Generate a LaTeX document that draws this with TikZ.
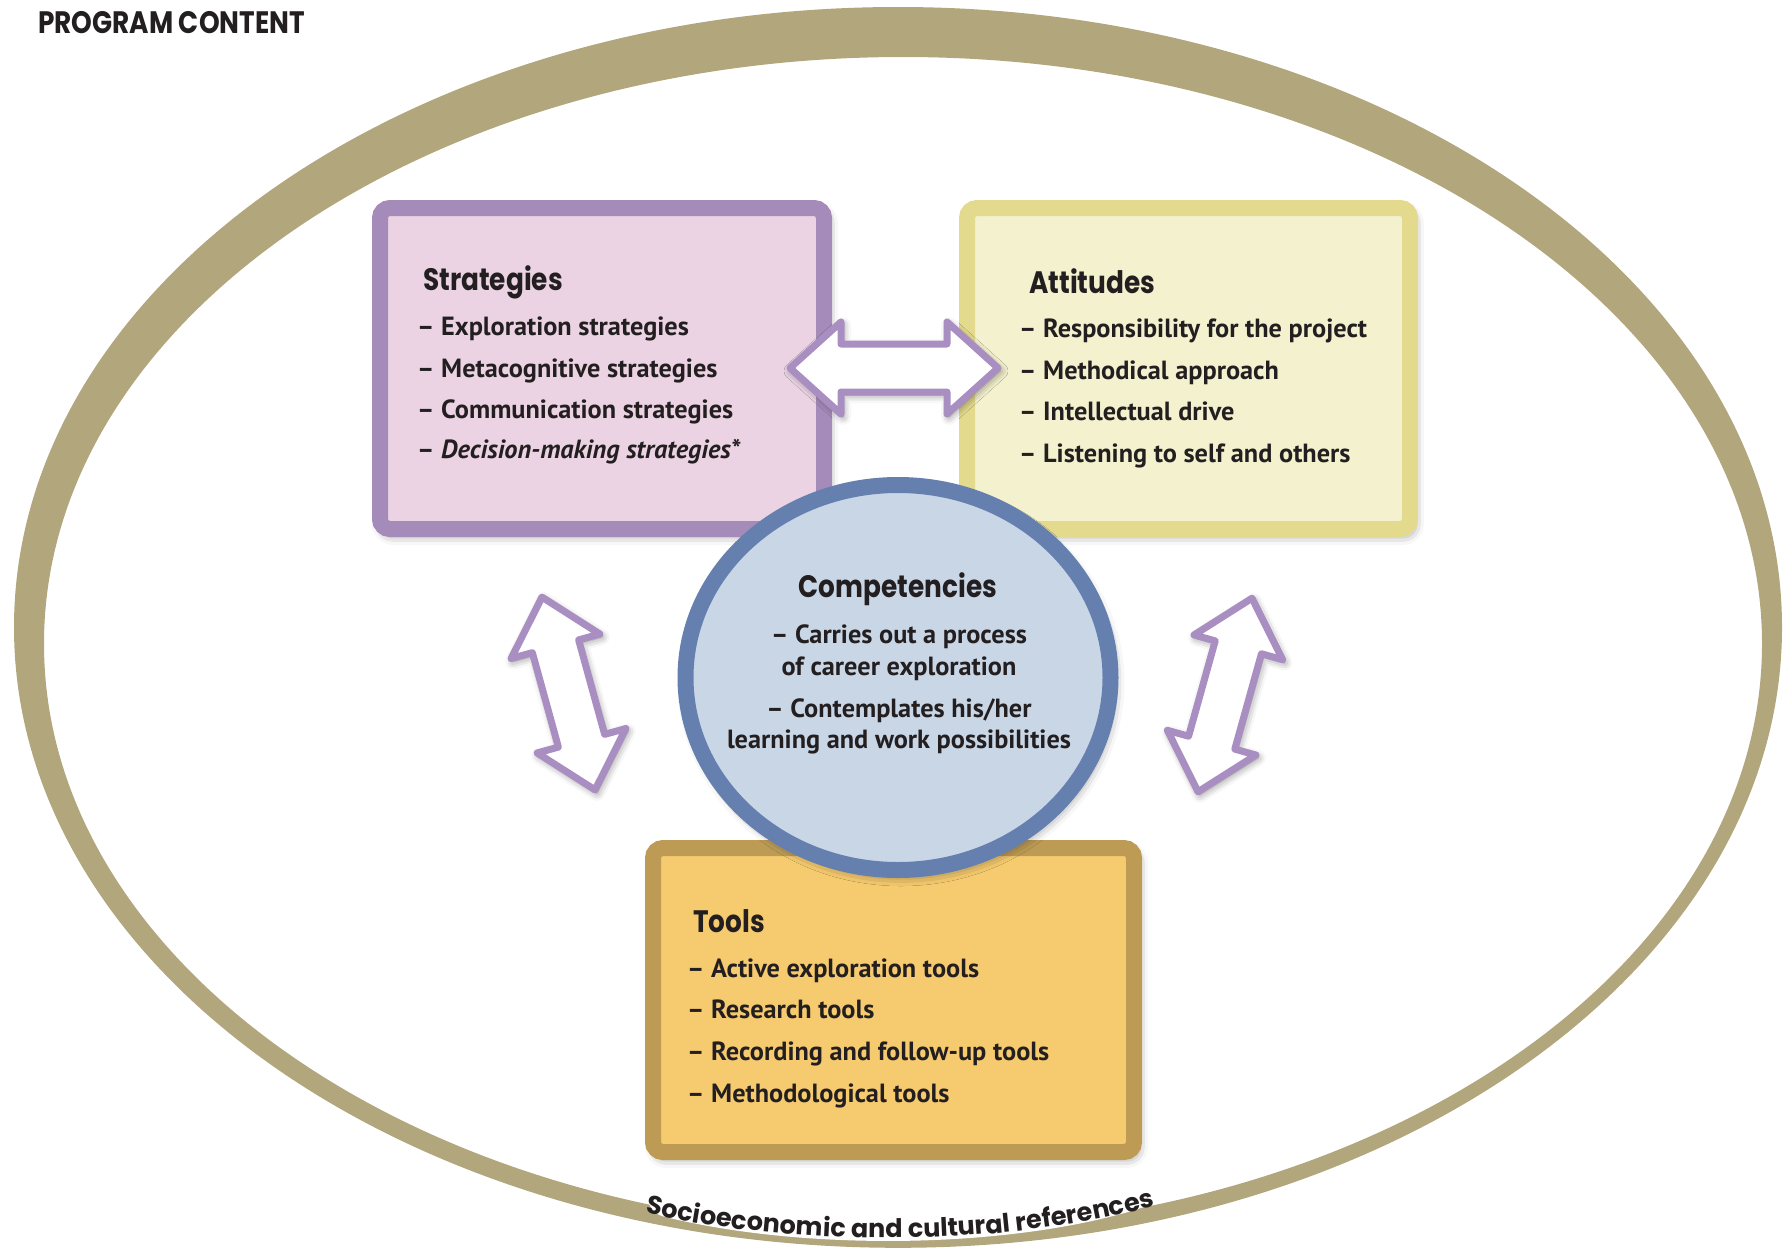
\documentclass[tikz,border=0pt]{standalone}
\usepackage{fontspec}
\setmainfont{PT Sans}
\newfontfamily\headfont{Poppins}[FakeStretch=0.85]
\newfontfamily\curvefont{Poppins}
\usetikzlibrary{shadows.blur,decorations.text,shapes.geometric}
\definecolor{band}{HTML}{B2A67C}
\definecolor{stratfill}{HTML}{EBD3E4}
\definecolor{stratline}{HTML}{A48BB9}
\definecolor{attfill}{HTML}{F3F1CE}
\definecolor{attline}{HTML}{E4DA8E}
\definecolor{toolfill}{HTML}{F6CB6F}
\definecolor{toolline}{HTML}{BD9B55}
\definecolor{compfill}{HTML}{C9D6E6}
\definecolor{compline}{HTML}{6580AF}
\definecolor{arrline}{HTML}{A98EC1}
\definecolor{txt}{HTML}{231F20}
\tikzset{
  softshadow/.style={blur shadow={shadow blur radius=11pt, shadow xshift=3pt, shadow yshift=-5pt, shadow opacity=50}},
  boxframe/.style={rectangle, line width=16pt, rounded corners=10pt, inner sep=0pt, softshadow},
  arrowshape/.style={draw=arrline, fill=white, line width=7pt, line join=round,
     blur shadow={shadow blur radius=8pt, shadow xshift=2pt, shadow yshift=-3pt, shadow opacity=50}},
  item/.style={font=\fontsize{26.3}{30}\selectfont\bfseries, text=txt, inner sep=0pt, anchor=base west},
  citem/.style={item, anchor=base},
  head/.style={font=\headfont\bfseries\fontsize{31}{34}\selectfont, text=txt, inner sep=0pt, anchor=base west},
}
\newcommand\dblarrow[3]{%
  \path[arrowshape, shift={(#1)}, rotate=#2]
    (-#3,0) -- ({-#3+51},46) -- ({-#3+51},24) -- ({#3-51},24) -- ({#3-51},46) -- (#3,0)
    -- ({#3-51},-46) -- ({#3-51},-24) -- ({-#3+51},-24) -- ({-#3+51},-46) -- cycle;}
\begin{document}
\begin{tikzpicture}[x=1pt,y=-1pt]
\useasboundingbox (0,0) rectangle (1791,1248);
% outer band
\fill[band, even odd rule] (898,627.4) ellipse [x radius=884, y radius=620.4]
                           (903,643.8) ellipse [x radius=859, y radius=586.8];
% white halo below curved text
\draw[white, line width=40pt, line cap=round] (668,1197) .. controls (800,1230) and (1000,1230) .. (1132,1190);
\path[decorate, decoration={text along path, text align=center,
   text={|\curvefont\bfseries\fontsize{25.5}{30}\selectfont\color{txt}|Socioeconomic and cultural references}}]
   (650,1214) .. controls (800,1247) and (1000,1247) .. (1150,1207);
% title
\node[head] (title) at (38,33) {PROGRAM CONTENT};
% boxes
\node[boxframe, draw=stratline, fill=stratfill, minimum width=444pt, minimum height=321pt] (strat) at (602,368.5) {};
\node[boxframe, draw=attline, fill=attfill, minimum width=443pt, minimum height=321pt] (att) at (1188.5,368.5) {};
\dblarrow{894,368}{0}{104}
\node[boxframe, draw=toolline, fill=toolfill, minimum width=481pt, minimum height=304pt] (tools) at (893.5,1000) {};
\dblarrow{568.5,693.5}{-74.6}{100}
\dblarrow{1225,695}{-105.6}{100.5}
\node[ellipse, draw=compline, fill=compfill, line width=16pt, minimum width=425pt, minimum height=385pt, inner sep=0pt, softshadow] (comp) at (898,677.5) {};
% strategies text
\node[head] (sh) at (423,290) {Strategies};
\node[item] (s1) at (417,335) {– Exploration strategies};
\node[item] (s2) at (417,377) {– Metacognitive strategies};
\node[item] (s3) at (417,418) {– Communication strategies};
\node[item] (s4) at (417,458) {– \textit{Decision-making strategies*}};
% attitudes text
\node[head] (ah) at (1029,293) {Attitudes};
\node[item] (a1) at (1019,337) {– Responsibility for the project};
\node[item] (a2) at (1019,379) {– Methodical approach};
\node[item] (a3) at (1019,420) {– Intellectual drive};
\node[item] (a4) at (1019,462) {– Listening to self and others};
% competencies text
\node[head, anchor=base] (ch) at (898,597) {Competencies};
\node[citem] (c1) at (899,643) {– Carries out a process};
\node[citem] (c2) at (899,675) {of career exploration};
\node[citem] (c3) at (899,717) {– Contemplates his/her};
\node[citem] (c4) at (899,748) {learning and work possibilities};
% tools text
\node[head] (th) at (693,932) {Tools};
\node[item] (t1) at (687,977) {– Active exploration tools};
\node[item] (t2) at (687,1018) {– Research tools};
\node[item] (t3) at (687,1060) {– Recording and follow-up tools};
\node[item] (t4) at (687,1102) {– Methodological tools};
\end{tikzpicture}
\end{document}
